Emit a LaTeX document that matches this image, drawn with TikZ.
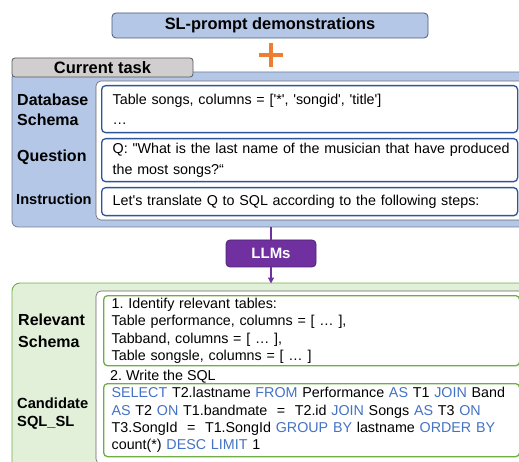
\documentclass[tikz,border=0pt]{standalone}
\usepackage{fontspec}
\setmainfont{Liberation Sans}[Ligatures=TeXOff]
\usetikzlibrary{arrows.meta,positioning}
\frenchspacing

\definecolor{panelblue}{HTML}{B4C7E7}
\definecolor{panelline}{HTML}{6F7F99}
\definecolor{demoline}{HTML}{4A5A78}
\definecolor{taskline}{HTML}{2F5597}
\definecolor{tabgray}{HTML}{D0CECE}
\definecolor{greenfill}{HTML}{E2F0D9}
\definecolor{stepgreen}{HTML}{70AD47}
\definecolor{llmpurple}{HTML}{7030A0}
\definecolor{plusorange}{HTML}{ED7D31}
\definecolor{kwblue}{HTML}{4472C4}

\newcommand{\kw}[1]{\textcolor{kwblue}{#1}}

\begin{document}
\begin{tikzpicture}[x=1pt, y=-1pt,
    every node/.style={font=\fontsize{14.3}{20}\selectfont},
    demo/.style={draw=demoline, fill=panelblue, rounded corners=4pt, line width=0.8pt,
      minimum width=316pt, minimum height=25pt, inner sep=0pt,
      font=\bfseries\fontsize{16.4}{18}\selectfont},
    tab/.style={draw=gray!70!black, fill=tabgray, rounded corners=3pt, line width=0.8pt,
      minimum width=181pt, minimum height=19pt, inner sep=0pt,
      font=\bfseries\fontsize{16.5}{18}\selectfont},
    taskpanel/.style={draw=panelline, fill=panelblue, rounded corners=6pt, line width=0.8pt},
    resultpanel/.style={draw=stepgreen, fill=greenfill, rounded corners=8pt, line width=0.9pt},
    innerpanel/.style={draw=gray!80!black, fill=white, rounded corners=5pt, line width=0.6pt},
    taskbox/.style={draw=taskline, fill=white, rounded corners=4pt, line width=1.3pt,
      anchor=north west, minimum width=416pt, text width=394pt, inner xsep=11pt,
      inner ysep=2pt, align=left},
    stepbox/.style={taskbox, draw=stepgreen, text width=400pt, inner xsep=8pt,
      font=\fontsize{14.3}{17.6}\selectfont},
    side/.style={anchor=west, align=left, inner sep=0pt,
      font=\bfseries\fontsize{16}{20}\selectfont},
    llm/.style={draw=llmpurple!70!black, fill=llmpurple, text=white, rounded corners=4pt,
      line width=0.8pt, minimum width=90pt, minimum height=27pt, inner sep=0pt,
      font=\bfseries\fontsize{15}{17}\selectfont},
    flow/.style={draw=llmpurple, line width=1.3pt}]
  \useasboundingbox (0,0) rectangle (519,462);
  \clip (0,0) rectangle (519,462);

  % demonstrations
  \node[demo] (demo) at (270,25.5) {SL-prompt demonstrations};
  \coordinate (plus) at (271,55);
  \draw[plusorange, line width=4.2pt] ([xshift=-12pt]plus) -- ([xshift=12pt]plus);
  \draw[plusorange, line width=4.2pt] ([yshift=-12pt]plus) -- ([yshift=12pt]plus);

  % current task
  \draw[taskpanel] (12,72) rectangle (560,227);
  \draw[innerpanel] (96,81) rectangle (560,220);
  \node[tab] (tab) at (102.5,67.5) {Current task};
  \node[taskbox, minimum height=47pt] (schema) at (101,85)
    {Table songs, columns = ['*', 'songid', 'title']\\…};
  \node[taskbox, minimum height=43pt, font=\fontsize{14.3}{21}\selectfont] (question) at (101,138)
    {\mbox{Q: "What is the last name of the musician that have produced}\\the most songs?“};
  \node[taskbox, minimum height=28pt] (instr) at (101,187)
    {Let's translate Q to SQL according to the following steps:};
  \node[side] (lschema) at (17,110) {Database\\Schema};
  \node[side] (lquestion) at (17,157) {Question};
  \node[side, font=\bfseries\fontsize{14.6}{17}\selectfont] (linstr) at (16,199) {Instruction};

  % model output
  \draw[resultpanel] (12,283) rectangle (560,520);
  \draw[innerpanel] (96,291) rectangle (560,464);
  \node[stepbox, minimum height=70pt] (relevant) at (103,295)
    {1. Identify relevant tables:\\Table performance, columns = [ … ],\\Tabband, columns = [ … ],\\Table songsle, columns = [ … ]};
  \node[anchor=west, inner sep=0pt] (write) at (110,377) {2. Write the SQL};
  \node[stepbox, minimum height=73pt, font=\fontsize{14.3}{17.3}\selectfont] (sql) at (103,383)
    {\mbox{\kw{SELECT} T2.lastname \kw{FROM} Performance \kw{AS} T1 \kw{JOIN} Band}\\
     \kw{AS} T2 \kw{ON} T1.bandmate~ =~ T2.id \kw{JOIN} Songs \kw{AS} T3 \kw{ON}\\
     T3.SongId~ =~ T1.SongId \kw{GROUP BY} lastname \kw{ORDER BY}\\
     count(*) \kw{DESC LIMIT} 1};
  \node[side, font=\bfseries\fontsize{16}{22}\selectfont] (lrelevant) at (18,331) {Relevant\\Schema};
  \node[side, font=\bfseries\fontsize{14.7}{17.5}\selectfont] (lcand) at (17,413.5) {Candidate\\SQL\_SL};

  % LLMs
  \coordinate (taskbot) at (271,227);
  \coordinate (resulttop) at (271,283.5);
  \node[llm] (llm) at (271,253.5) {LLMs};
  \draw[flow] (taskbot) -- (llm);
  \draw[flow, -{Triangle[length=6pt,width=6pt]}] (llm) -- (resulttop);
\end{tikzpicture}
\end{document}
